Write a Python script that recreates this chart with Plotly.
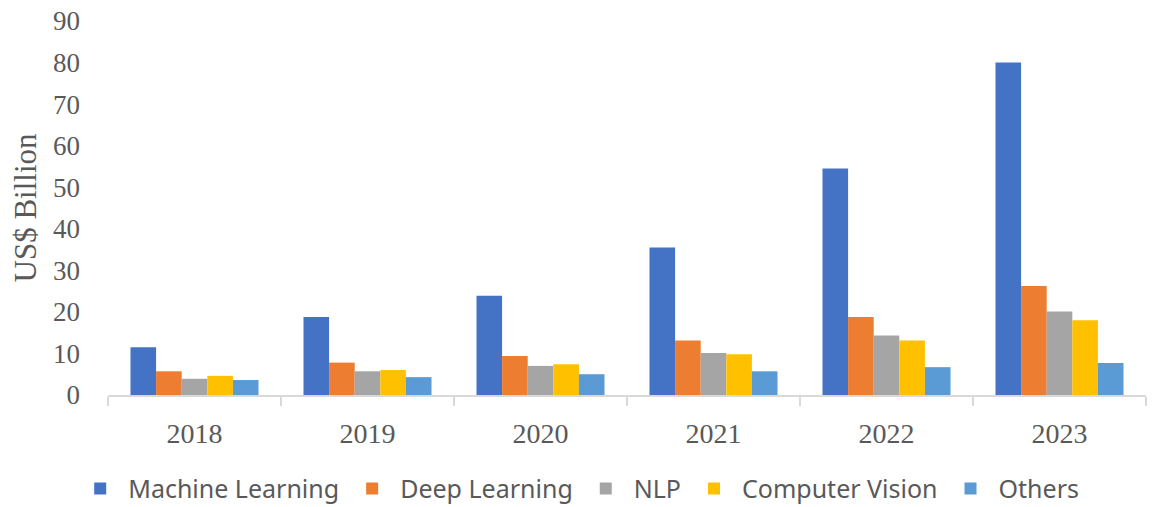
import plotly.graph_objects as go

years = ["2018", "2019", "2020", "2021", "2022", "2023"]
machine_learning = [11.5, 18.8, 23.9, 35.5, 54.5, 80.0]
deep_learning = [5.7, 7.8, 9.4, 13.1, 18.8, 26.2]
nlp = [3.9, 5.7, 7.0, 10.1, 14.3, 20.1]
computer_vision = [4.6, 6.0, 7.4, 9.8, 13.1, 18.0]
others = [3.6, 4.3, 5.0, 5.7, 6.7, 7.7]

series_names = ["Machine Learning", "Deep Learning", "NLP", "Computer Vision", "Others"]
series_values = [machine_learning, deep_learning, nlp, computer_vision, others]
colors = ["#4472C4", "#ED7D31", "#A5A5A5", "#FFC000", "#5B9BD5"]
y_ticks = [0, 10, 20, 30, 40, 50, 60, 70, 80, 90]

fig = go.Figure()
for name, vals, col in zip(series_names, series_values, colors):
    fig.add_trace(go.Bar(x=years, y=vals, name=name,
                         marker=dict(color=col, line=dict(width=0))))

fig.update_layout(
    width=1161, height=507,
    barmode="group", bargap=0.26, bargroupgap=0,
    plot_bgcolor="white", paper_bgcolor="white",
    margin=dict(l=108, r=15, t=21, b=112, autoexpand=False),
    legend=dict(orientation="h", x=0.453, xanchor="center", y=-0.251, yanchor="middle",
                font=dict(family="Noto Sans", size=25, color="#595959"),
                itemwidth=46, tracegroupgap=0),
    xaxis=dict(showline=True, linecolor="#d9d9d9", linewidth=2,
               ticks="outside", tickson="boundaries", ticklen=9, tickcolor="#d9d9d9",
               tickwidth=2, ticklabelstandoff=12,
               tickfont=dict(family="Liberation Serif", size=28, color="#595959")),
    yaxis=dict(range=[0, 90], tickvals=y_ticks, showgrid=False, zeroline=False,
               showline=False, ticklabelstandoff=27, ticklabeloverflow="allow",
               tickfont=dict(family="Liberation Serif", size=27, color="#595959"),
               title=dict(text="US$ Billion", standoff=7,
                          font=dict(family="Liberation Serif", size=31, color="#595959"))),
)

fig.write_html("out.html", config={"displayModeBar": False},
               post_script="document.body.style.margin='0';document.body.style.overflow='hidden';")
